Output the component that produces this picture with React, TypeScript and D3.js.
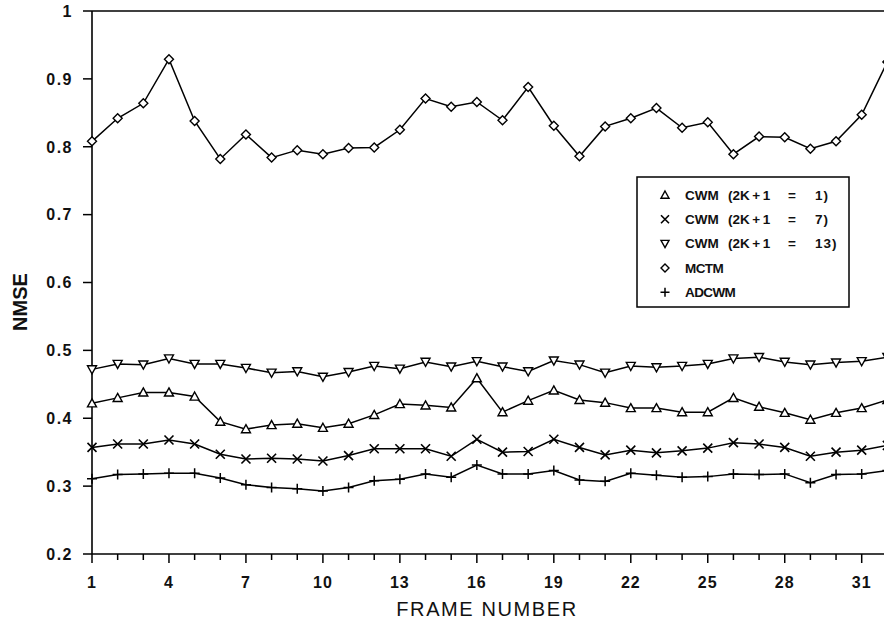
import React from "react";
import * as d3 from "d3";

const frames = d3.range(1, 33);
const cwm1 = [0.422,0.430,0.438,0.438,0.432,0.395,0.384,0.390,0.392,0.386,0.392,0.405,0.421,0.419,0.416,0.459,0.409,0.426,0.441,0.427,0.423,0.415,0.415,0.409,0.409,0.430,0.417,0.408,0.398,0.408,0.415,0.427];
const cwm7 = [0.357,0.362,0.362,0.368,0.362,0.347,0.340,0.341,0.340,0.337,0.345,0.355,0.355,0.355,0.344,0.369,0.350,0.351,0.369,0.357,0.346,0.353,0.349,0.352,0.356,0.364,0.362,0.357,0.344,0.350,0.353,0.360];
const cwm13 = [0.472,0.480,0.479,0.488,0.480,0.480,0.474,0.467,0.469,0.461,0.468,0.477,0.473,0.483,0.476,0.484,0.476,0.469,0.485,0.479,0.467,0.477,0.475,0.477,0.480,0.488,0.490,0.483,0.479,0.482,0.484,0.490];
const mctm = [0.808,0.842,0.864,0.929,0.838,0.782,0.818,0.784,0.795,0.789,0.798,0.799,0.825,0.871,0.859,0.866,0.839,0.888,0.831,0.786,0.830,0.842,0.857,0.828,0.836,0.789,0.815,0.814,0.797,0.808,0.847,0.925];
const adcwm = [0.311,0.317,0.318,0.319,0.319,0.312,0.302,0.298,0.296,0.293,0.298,0.308,0.310,0.318,0.313,0.331,0.318,0.318,0.323,0.309,0.307,0.319,0.316,0.313,0.314,0.318,0.317,0.318,0.305,0.317,0.318,0.323];

// legend labels: name and window size (null for methods without it)
const seriesNames = ["CWM", "CWM", "CWM", "MCTM", "ADCWM"];
const seriesWindows = ["1", "7", "13", null, null];
const seriesMarkers = ["triUp", "cross", "triDown", "diamond", "plus"];
const seriesValues = [cwm1, cwm7, cwm13, mctm, adcwm];

const yTicks = [0.2, 0.3, 0.4, 0.5, 0.6, 0.7, 0.8, 0.9, 1];
const xTickLabels = [1, 4, 7, 10, 13, 16, 19, 22, 25, 28, 31];

const W = 884, H = 624;
const x = d3.scaleLinear().domain([1, 31]).range([92, 861.7]);
const y = d3.scaleLinear().domain([0.2, 1]).range([554, 11]);

function Marker({ type, cx, cy, s = 4.5 }: { type: string; cx: number; cy: number; s?: number }) {
  const common = { fill: "white", stroke: "black", strokeWidth: 1.4 };
  if (type === "diamond") {
    return <path d={`M${cx},${cy - s}L${cx + s},${cy}L${cx},${cy + s}L${cx - s},${cy}Z`} {...common} />;
  }
  if (type === "triUp") {
    return <path d={`M${cx},${cy - s}L${cx + s},${cy + s * 0.8}L${cx - s},${cy + s * 0.8}Z`} {...common} />;
  }
  if (type === "triDown") {
    return <path d={`M${cx},${cy + s}L${cx + s},${cy - s * 0.8}L${cx - s},${cy - s * 0.8}Z`} {...common} />;
  }
  if (type === "cross") {
    const c = s;
    return <path d={`M${cx - c},${cy - c}L${cx + c},${cy + c}M${cx - c},${cy + c}L${cx + c},${cy - c}`} stroke="black" strokeWidth={1.6} fill="none" />;
  }
  const p = s + 0.5;
  return <path d={`M${cx - p},${cy}L${cx + p},${cy}M${cx},${cy - p}L${cx},${cy + p}`} stroke="black" strokeWidth={1.5} fill="none" />;
}

export default function App() {
  const line = d3.line<number>().x((_, i) => x(frames[i])).y((d) => y(d));
  const font = "'Liberation Sans', Arial, Helvetica, sans-serif";
  const legX = 637, legY = 177, legW = 212, legH = 130;
  const rowY = (i: number) => 195 + i * 24.3;
  return (
    <svg width={W} height={H} style={{ position: "absolute", left: 0, top: 0, background: "white" }} fontFamily={font}>
      <rect x={0} y={0} width={W} height={H} fill="white" />
      {/* axes frame */}
      <line x1={92} y1={11} x2={W} y2={11} stroke="black" strokeWidth={1.6} />
      <line x1={92} y1={11} x2={92} y2={554} stroke="black" strokeWidth={1.6} />
      <line x1={92} y1={554} x2={W} y2={554} stroke="black" strokeWidth={1.6} />
      {yTicks.map((t) => (
        <g key={t}>
          <line x1={83} x2={92} y1={y(t)} y2={y(t)} stroke="black" strokeWidth={1.5} />
          <text x={73} y={y(t)} dy="0.36em" textAnchor="end" fontSize={16} letterSpacing={1.5} fontWeight="bold" fill="#111">
            {t === 1 ? "1" : d3.format(".1f")(t)}
          </text>
        </g>
      ))}
      {frames.map((f) => {
        const major = (f - 1) % 3 === 0;
        return <line key={f} x1={x(f)} x2={x(f)} y1={554} y2={554 + (major ? 9 : 6)} stroke="black" strokeWidth={1.5} />;
      })}
      {xTickLabels.map((f) => (
        <text key={f} x={x(f)} y={588} textAnchor="middle" fontSize={16} letterSpacing={1} fontWeight="bold" fill="#111">
          {f}
        </text>
      ))}
      <text x={487} y={616} textAnchor="middle" fontSize={20} letterSpacing={1.6} fill="#111">FRAME NUMBER</text>
      <text transform={`translate(27,302) rotate(-90)`} textAnchor="middle" fontSize={20} fontWeight="bold" fill="#111">NMSE</text>
      {/* series */}
      {seriesValues.map((vals, si) => (
        <g key={si}>
          <path d={line(vals) || ""} fill="none" stroke="black" strokeWidth={1.5} />
          {vals.map((v, i) => (
            <Marker key={i} type={seriesMarkers[si]} cx={x(frames[i])} cy={y(v)} />
          ))}
        </g>
      ))}
      {/* legend */}
      <rect x={legX} y={legY} width={legW} height={legH} fill="white" stroke="black" strokeWidth={1.5} />
      {seriesNames.map((n, i) => (
        <g key={i} fontSize={13.5} fontWeight="bold" fill="#111">
          <Marker type={seriesMarkers[i]} cx={665} cy={rowY(i)} s={4} />
          <text x={685} y={rowY(i)} dy="0.36em" letterSpacing={n === "CWM" ? 0 : -0.6}>{n}</text>
          {seriesWindows[i] !== null && (
            <>
              <text x={728} y={rowY(i)} dy="0.36em">
                <tspan>(2K</tspan>
                <tspan dx={2.5}>+</tspan>
                <tspan dx={2.5}>1</tspan>
              </text>
              <text x={788} y={rowY(i)} dy="0.36em">=</text>
              <text x={815} y={rowY(i)} dy="0.36em" letterSpacing={1}>{seriesWindows[i] + ")"}</text>
            </>
          )}
        </g>
      ))}
    </svg>
  );
}
